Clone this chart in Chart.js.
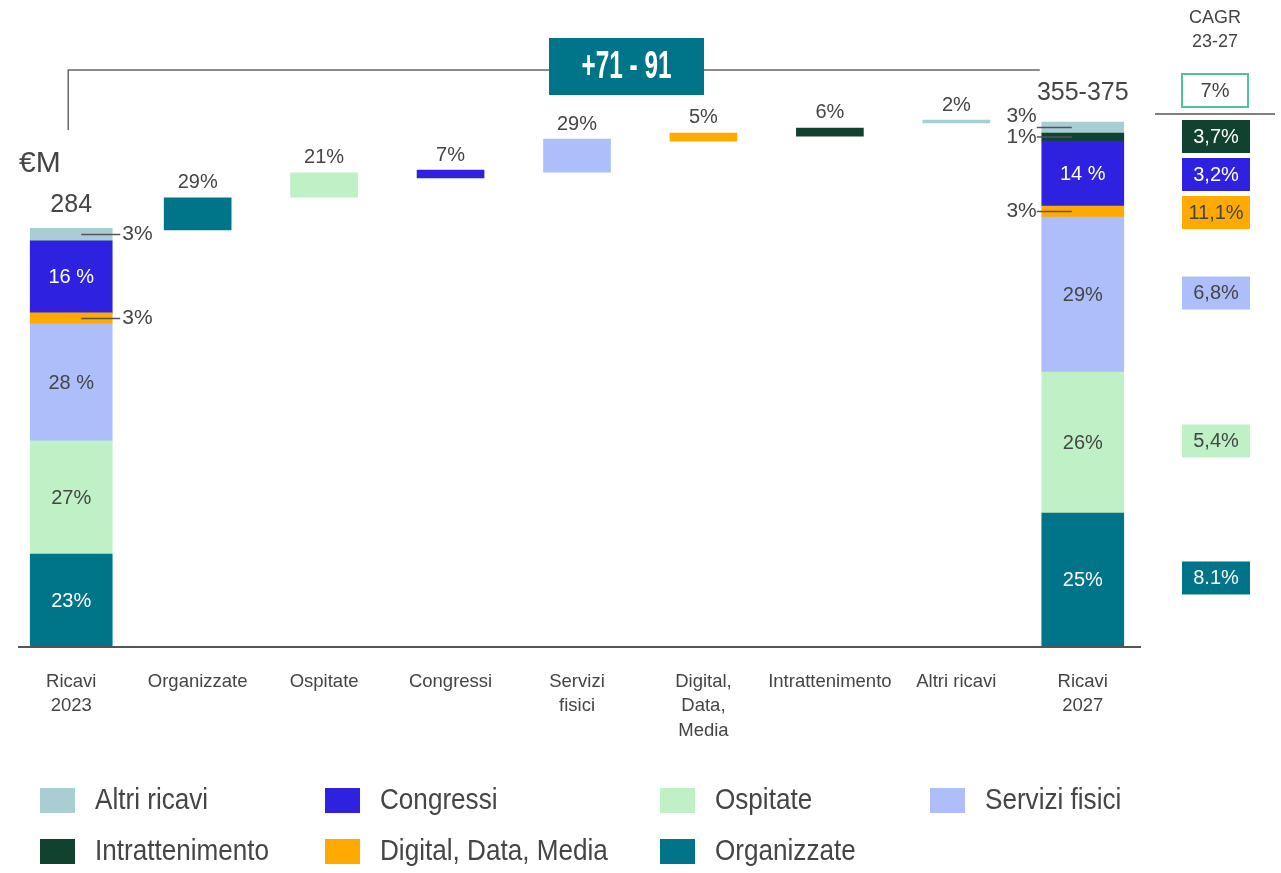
<!DOCTYPE html>
<html>
<head>
<meta charset="utf-8">
<script src="https://cdn.jsdelivr.net/npm/chart.js@4.4.1/dist/chart.umd.min.js"></script>
<style>
  html, body { margin: 0; padding: 0; background: #fff; }
  #wrap { width: 1281px; height: 873px; }
</style>
</head>
<body>
<div id="wrap"><canvas id="revenueChart" width="1281" height="873"></canvas></div>
<script>
// Categories on the x axis
const categories = [['Ricavi', '2023'], 'Organizzate', 'Ospitate', 'Congressi', ['Servizi', 'fisici'],
    ['Digital,', 'Data,', 'Media'], 'Intrattenimento', 'Altri ricavi', ['Ricavi', '2027']];

// Revenue components, stacked bottom to top
const components = ['Organizzate', 'Ospitate', 'Servizi fisici', 'Digital, Data, Media', 'Congressi', 'Intrattenimento', 'Altri ricavi'];
const colors = ['#007589', '#bff0c6', '#aebefa', '#ffaa00', '#2e22e0', '#10422f', '#a8cdd3'];
const darkFill = [true, false, false, false, true, true, false];

// €M per component
const rev2023 = [62.6, 76.9, 79.6, 7.5, 49.0, 0, 8.5];
const rev2027 = [90.5, 95.9, 105.4, 7.5, 44.2, 5.4, 7.5];
const share2023 = ['23%', '27%', '28 %', '3%', '16 %', '', '3%'];
const share2027 = ['25%', '26%', '29%', '3%', '14 %', '1%', '3%'];

// Growth bars (categories 1..7)
const deltaComponent = [0, 1, 4, 2, 3, 5, 6];
const deltaLow = [283.0, 305.4, 318.4, 322.4, 343.5, 346.9, 355.8];
const deltaHigh = [304.8, 321.8, 323.8, 344.9, 349.0, 352.4, 357.8];
const deltaShare = ['29%', '21%', '7%', '29%', '5%', '6%', '2%'];

const total2023 = '284';
const total2027 = '355-375';
const deltaRange = '+71 - 91';
const cagrTitle = ['CAGR', '23-27'];
const cagrTotal = '7%';
const cagr = ['8.1%', '5,4%', '6,8%', '11,1%', '3,2%', '3,7%', null];

const legendOrder = ['Altri ricavi', 'Congressi', 'Ospitate', 'Servizi fisici', 'Intrattenimento', 'Digital, Data, Media', 'Organizzate'];

const SANS = "'Liberation Sans', Arial, sans-serif";
const TEXT = '#454545';
const last = categories.length - 1;

function stackRanges(values) {
    let run = 0;
    return values.map(v => {
        const r = v ? [run, run + v] : null;
        run += v;
        return r;
    });
}
const ranges2023 = stackRanges(rev2023);
const ranges2027 = stackRanges(rev2027);
const sum = arr => arr.reduce((a, v) => a + v, 0);

const datasets = components.map((name, c) => ({
    label: name,
    data: categories.map((_, i) => i === 0 ? ranges2023[c] : (i === last ? ranges2027[c] : null)),
    backgroundColor: colors[c],
    barThickness: 82,
    grouped: false
}));
datasets.push({
    label: 'Crescita',
    data: [null, ...deltaLow.map((lo, k) => [lo, deltaHigh[k]]), null],
    backgroundColor: ['transparent', ...deltaComponent.map(c => colors[c]), 'transparent'],
    barThickness: 67,
    grouped: false
});

function text(ctx, str, x, y, font, color, align) {
    ctx.font = font;
    ctx.fillStyle = color;
    ctx.textAlign = align || 'center';
    ctx.textBaseline = 'middle';
    ctx.fillText(str, x, y);
}
function line(ctx, x1, y1, x2, y2, color, w) {
    ctx.beginPath();
    ctx.strokeStyle = color;
    ctx.lineWidth = w;
    ctx.moveTo(x1, y1);
    ctx.lineTo(x2, y2);
    ctx.stroke();
}

const annotations = {
    id: 'annotations',
    afterDatasetsDraw(chart) {
        const ctx = chart.ctx, xs = chart.scales.x, ys = chart.scales.y, area = chart.chartArea;
        ctx.save();
        const labelFont = '20px ' + SANS;

        // baseline
        line(ctx, area.left + 10, area.bottom + 1, area.right - 5, area.bottom + 1, '#555', 2);

        // stacked totals: inner labels and callouts
        [[0, ranges2023, share2023, 1], [last, ranges2027, share2027, -1]].forEach(([i, ranges, shares, side]) => {
            const bx = xs.getPixelForValue(i), half = 41;
            let prevY = Infinity;
            ranges.forEach((r, c) => {
                if (!r || !shares[c]) return;
                const top = ys.getPixelForValue(r[1]), bot = ys.getPixelForValue(r[0]);
                const mid = (top + bot) / 2;
                if (bot - top > 30) {
                    text(ctx, shares[c], bx, mid + 1, labelFont, darkFill[c] ? '#fff' : TEXT);
                    return;
                }
                const ly = Math.min(mid, prevY - 21);
                prevY = ly;
                if (side > 0) {
                    line(ctx, bx + 10, mid, bx + half + 8, mid, '#555', 1.5);
                    text(ctx, shares[c], bx + half + 10, ly, '21px ' + SANS, TEXT, 'left');
                } else {
                    line(ctx, bx - half - 5, mid, bx - 11, mid, '#555', 1.5);
                    text(ctx, shares[c], bx - half - 5, ly, '21px ' + SANS, TEXT, 'right');
                }
            });
        });

        // growth labels
        deltaHigh.forEach((hi, k) => {
            const x = xs.getPixelForValue(k + 1);
            text(ctx, deltaShare[k], x, ys.getPixelForValue(hi) - 15, labelFont, TEXT);
        });

        // totals
        text(ctx, '€M', 19, 164, '30px ' + SANS, TEXT, 'left');
        text(ctx, total2023, xs.getPixelForValue(0), ys.getPixelForValue(sum(rev2023)) - 23, '25px ' + SANS, TEXT);
        text(ctx, total2027, xs.getPixelForValue(last), ys.getPixelForValue(sum(rev2027)) - 29, '25px ' + SANS, TEXT);

        // bracket with range box
        const bl = xs.getPixelForValue(0) - 3, br = xs.getPixelForValue(last) - 43;
        ctx.beginPath();
        ctx.strokeStyle = '#666';
        ctx.lineWidth = 1.5;
        ctx.moveTo(bl, 130);
        ctx.lineTo(bl, 70);
        ctx.lineTo(br, 70);
        ctx.stroke();
        ctx.fillStyle = '#007589';
        ctx.fillRect(549, 38, 155, 57);
        ctx.save();
        ctx.translate(626.5, 68);
        ctx.scale(0.64, 1);
        text(ctx, deltaRange, 0, 0, 'bold 38px ' + SANS, '#fff');
        ctx.restore();

        // CAGR column
        text(ctx, cagrTitle[0], 1215, 18, '18px ' + SANS, TEXT);
        text(ctx, cagrTitle[1], 1215, 42, '18px ' + SANS, TEXT);
        ctx.strokeStyle = '#4cc497';
        ctx.lineWidth = 2;
        ctx.strokeRect(1182, 74, 66, 33);
        text(ctx, cagrTotal, 1215, 91, labelFont, TEXT);
        line(ctx, 1155, 114, 1275, 114, '#555', 1.5);
        let nextTop = 120;
        for (let c = components.length - 1; c >= 0; c--) {
            if (!cagr[c]) continue;
            const r = ranges2027[c];
            const mid = (ys.getPixelForValue(r[0]) + ys.getPixelForValue(r[1])) / 2;
            const top = Math.max(mid - 18, nextTop);
            ctx.fillStyle = colors[c];
            ctx.fillRect(1182, top, 68, 33);
            text(ctx, cagr[c], 1216, top + 17, labelFont, darkFill[c] ? '#fff' : TEXT);
            nextTop = top + 38;
        }

        // legend
        const colX = [40, 325, 660, 930], rowY = [800, 851];
        legendOrder.forEach((name, n) => {
            const c = components.indexOf(name);
            const x = colX[n % 4], y = rowY[Math.floor(n / 4)];
            ctx.fillStyle = colors[c];
            ctx.fillRect(x, y - 12, 35, 25);
            ctx.save();
            ctx.translate(x + 55, y + 1);
            ctx.scale(0.9, 1);
            text(ctx, name, 0, 0, '29px ' + SANS, TEXT, 'left');
            ctx.restore();
        });
        ctx.restore();
    }
};

new Chart(document.getElementById('revenueChart'), {
    type: 'bar',
    data: { labels: categories, datasets: datasets },
    options: {
        responsive: false,
        animation: false,
        devicePixelRatio: 1,
        layout: { padding: { left: 8, right: 135, top: 58, bottom: 127 } },
        plugins: { legend: { display: false }, tooltip: { enabled: false } },
        scales: {
            x: {
                offset: true,
                grid: { display: false },
                border: { display: false },
                ticks: {
                    color: TEXT,
                    font: { family: SANS, size: 18.5, lineHeight: 1.31 },
                    padding: 16,
                    maxRotation: 0,
                    autoSkip: false
                },
                afterFit(scale) { scale.height = 100; }
            },
            y: { display: false, min: 0, max: 400 }
        }
    },
    plugins: [annotations]
});
</script>
</body>
</html>
